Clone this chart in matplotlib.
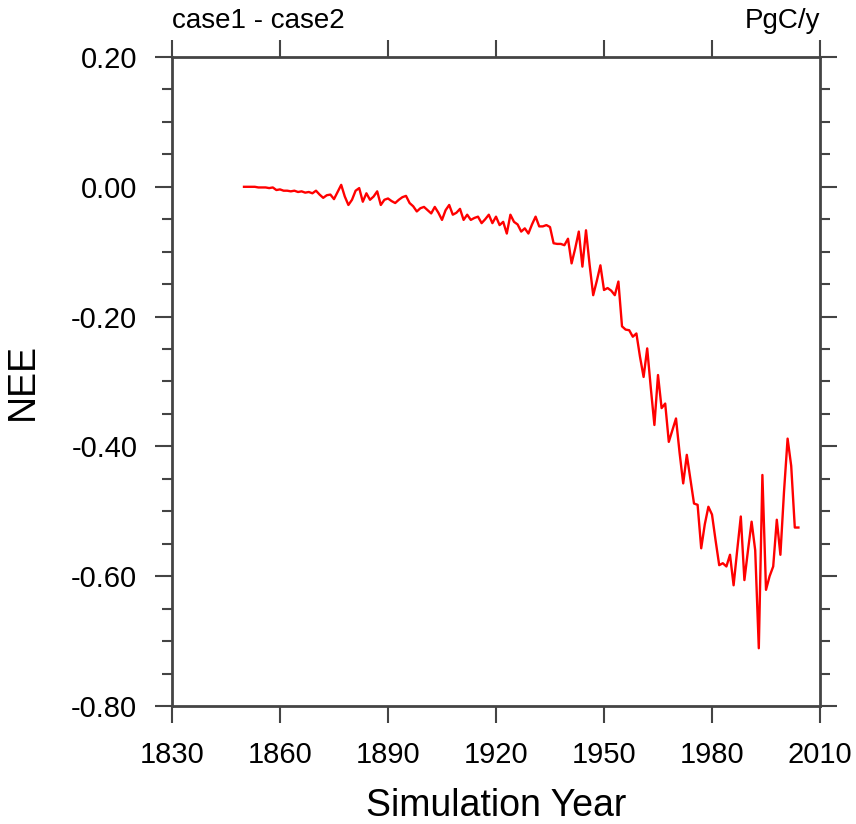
import numpy as np
import matplotlib.pyplot as plt
from matplotlib.ticker import MultipleLocator

plt.rcParams['font.family'] = ['Liberation Sans', 'DejaVu Sans']

# NEE difference (case1 - case2), one value per simulation year
years = np.arange(1850, 2005)
nee = [
    0.000, 0.000, 0.000, 0.000, -0.001, -0.001, -0.001, -0.002, -0.001, -0.005,   # 1850s
    -0.004, -0.006, -0.006, -0.007, -0.006, -0.008, -0.007, -0.009, -0.008, -0.010,  # 1860s
    -0.006, -0.012, -0.017, -0.013, -0.012, -0.019, -0.008, 0.003, -0.015, -0.028,   # 1870s
    -0.020, -0.006, -0.002, -0.023, -0.010, -0.020, -0.015, -0.007, -0.028, -0.020,  # 1880s
    -0.018, -0.022, -0.025, -0.020, -0.016, -0.014, -0.025, -0.030, -0.038, -0.033,  # 1890s
    -0.031, -0.036, -0.041, -0.031, -0.040, -0.051, -0.036, -0.028, -0.043, -0.040,  # 1900s
    -0.034, -0.051, -0.043, -0.051, -0.048, -0.046, -0.056, -0.050, -0.043, -0.056,  # 1910s
    -0.046, -0.059, -0.054, -0.072, -0.043, -0.054, -0.058, -0.069, -0.064, -0.072,  # 1920s
    -0.058, -0.046, -0.061, -0.061, -0.059, -0.062, -0.087, -0.088, -0.088, -0.090,  # 1930s
    -0.080, -0.118, -0.095, -0.069, -0.123, -0.067, -0.120, -0.167, -0.145, -0.121,  # 1940s
    -0.159, -0.156, -0.160, -0.167, -0.146, -0.215, -0.220, -0.221, -0.231, -0.226,  # 1950s
    -0.262, -0.293, -0.249, -0.310, -0.367, -0.290, -0.341, -0.334, -0.393, -0.375,  # 1960s
    -0.357, -0.410, -0.457, -0.413, -0.450, -0.488, -0.490, -0.557, -0.520, -0.493,  # 1970s
    -0.505, -0.545, -0.583, -0.580, -0.585, -0.567, -0.614, -0.560, -0.508, -0.606,  # 1980s
    -0.560, -0.516, -0.560, -0.711, -0.444, -0.621, -0.600, -0.585, -0.513, -0.567,  # 1990s
    -0.470, -0.388, -0.430, -0.525, -0.525,                                          # 2000s
]

fig = plt.figure(figsize=(8.56, 8.24), dpi=100)
ax = fig.add_axes([172 / 856, 1 - 706 / 824, 648 / 856, 649 / 824])

ax.plot(years, nee, color='red', linewidth=1.7, solid_joinstyle='round')

ax.set_xlim(1830, 2010)
ax.set_ylim(-0.80, 0.20)
ax.xaxis.set_major_locator(MultipleLocator(30))
ax.yaxis.set_major_locator(MultipleLocator(0.2))
ax.yaxis.set_minor_locator(MultipleLocator(0.05))
ax.yaxis.set_major_formatter(plt.FuncFormatter(lambda v, p: f'{v:.2f}'))

for s in ax.spines.values():
    s.set_linewidth(2)
    s.set_color('#444444')

ax.tick_params(which='both', direction='out', top=True, right=True,
               color='#444444', width=1.5, labelsize=21)
ax.tick_params(which='major', length=12)
ax.tick_params(which='minor', length=7)
ax.tick_params(axis='x', which='major', pad=13)
ax.tick_params(axis='y', which='major', pad=13)

ax.set_xlabel('Simulation Year', fontsize=27, labelpad=14)
ax.set_ylabel('NEE', fontsize=27, labelpad=22)

ax.text(0.0, 1.035, 'case1 - case2', transform=ax.transAxes, fontsize=20,
        ha='left', va='bottom')
ax.text(1.0, 1.035, 'PgC/y', transform=ax.transAxes, fontsize=20,
        ha='right', va='bottom')

fig.savefig('out.png', dpi=100)
